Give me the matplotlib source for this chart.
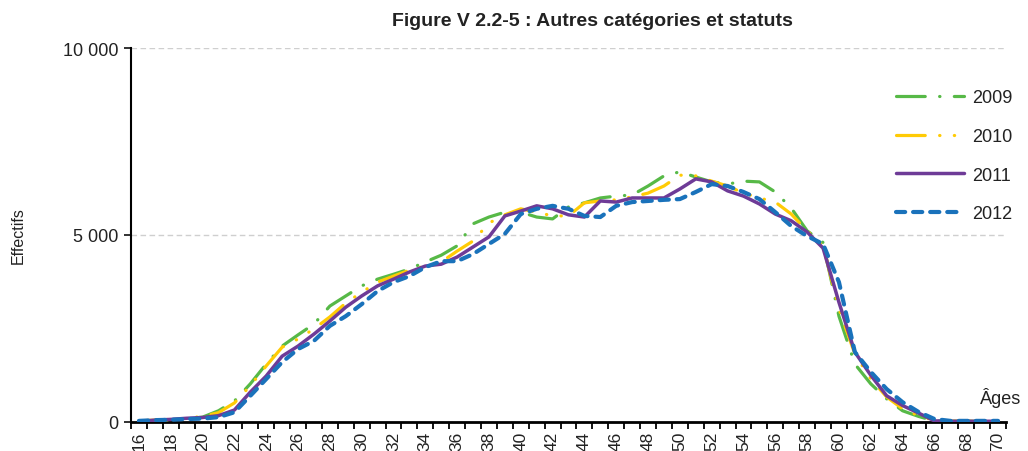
import matplotlib
matplotlib.use("Agg")
import matplotlib.pyplot as plt
from matplotlib.ticker import FuncFormatter

plt.rcParams['font.family'] = ['Liberation Sans', 'DejaVu Sans']

ages = list(range(16, 71))

v2009 = [30, 40, 60, 90, 130, 300, 560, 1020, 1550, 2030, 2330, 2620, 3100, 3370, 3640, 3820,
         3950, 4090, 4280, 4460, 4710, 5300, 5480, 5610, 5610, 5480, 5430, 5750, 5860, 5990,
         6040, 6070, 6310, 6580, 6690, 6550, 6420, 6360, 6440, 6420, 6150, 5720, 5110, 4800,
         2830, 1550, 1020, 620, 300, 150, 30, 20, 20, 20, 20]
v2010 = [30, 50, 70, 100, 150, 250, 510, 970, 1500, 2000, 2220, 2490, 2810, 3180, 3470, 3740,
         3900, 4060, 4170, 4280, 4570, 4840, 5320, 5540, 5700, 5610, 5510, 5510, 5860, 5910,
         5940, 6020, 6120, 6310, 6600, 6580, 6440, 6310, 6120, 5990, 5880, 5560, 5110, 4710,
         3020, 1820, 1150, 670, 350, 170, 40, 20, 20, 20, 20]
v2011 = [20, 50, 70, 100, 120, 170, 320, 800, 1230, 1760, 2030, 2350, 2700, 3070, 3370, 3640,
         3820, 4010, 4170, 4220, 4410, 4680, 4950, 5510, 5640, 5780, 5700, 5540, 5480, 5910,
         5880, 5990, 5990, 5990, 6230, 6500, 6420, 6180, 6040, 5830, 5560, 5380, 5080, 4650,
         3200, 1870, 1250, 700, 440, 240, 30, 20, 20, 20, 20]
v2012 = [30, 50, 60, 80, 90, 130, 260, 700, 1150, 1600, 1950, 2170, 2570, 2830, 3150, 3500,
         3740, 3900, 4140, 4300, 4300, 4490, 4760, 5030, 5560, 5700, 5780, 5700, 5510, 5480,
         5780, 5880, 5910, 5940, 5960, 6150, 6360, 6310, 6150, 5960, 5610, 5240, 4970, 4760,
         3740, 1870, 1340, 880, 530, 270, 80, 30, 30, 30, 30]

series_labels = ['2009', '2010', '2011', '2012']
y_ticks = [0, 5000, 10000]
title = "Figure V 2.2-5 : Autres catégories et statuts"

fig = plt.figure(figsize=(10.28, 4.52), dpi=100)
ax = fig.add_axes([131/1028, 1-423/452, (1006-131)/1028, (423-49)/452])

green = '#57B947'
yellow = '#FFCB05'
purple = '#6E3B97'
blue = '#1A72BB'

ax.plot(ages, v2009, color=green, lw=2.3, linestyle=(0, (9, 4.5, 0.1, 4.5)),
        dash_capstyle='round', label=series_labels[0], zorder=3)
ax.plot(ages, v2010, color=yellow, lw=2.3, linestyle=(0, (9, 4.5, 0.1, 4.5, 0.1, 4.5)),
        dash_capstyle='round', label=series_labels[1], zorder=4)
ax.plot(ages, v2011, color=purple, lw=2.5, linestyle='-', solid_capstyle='round',
        label=series_labels[2], zorder=5)
ax.plot(ages, v2012, color=blue, lw=3.0, linestyle=(0, (2.2, 1.9)),
        dash_capstyle='round', label=series_labels[3], zorder=6)

ax.set_xlim(15.5, 70.5)
ax.set_ylim(0, 10000)

ax.set_yticks(y_ticks)
ax.yaxis.set_major_formatter(FuncFormatter(lambda v, p: f"{int(v):,}".replace(",", " ")))
ax.tick_params(axis='y', length=5, width=1.3, labelsize=13, pad=4, colors='#222222')
ax.grid(axis='y', color='#CFCFCF', linestyle=(0, (4, 2.5)), lw=1.0, zorder=0)

major = [a - 0.5 for a in ages] + [70.5]
ax.set_xticks(major)
ax.set_xticklabels([])
ax.tick_params(axis='x', which='major', length=5, width=1.3, colors='black')
ax.set_xticks(ages[::2], minor=True)
ax.set_xticklabels([str(a) for a in ages[::2]], minor=True, rotation=90, fontsize=12.5,
                   color='#222222')
ax.tick_params(axis='x', which='minor', length=0, pad=6)

for s in ['top', 'right']:
    ax.spines[s].set_visible(False)
ax.spines['left'].set_linewidth(1.5)
ax.spines['bottom'].set_linewidth(2.0)

ax.set_ylabel('Effectifs', fontsize=11.5, labelpad=27, color='#222222')
ax.text((1001-131)/875, (423-398)/374, 'Âges', transform=ax.transAxes, fontsize=13,
        ha='center', va='center', color='#222222')

fig.text(592/1028, 1-22/452, title, ha='center', va='center', fontsize=14,
         fontweight='bold', color='#222222')

leg = ax.legend(loc='upper left', bbox_to_anchor=(880/1028, 1-74/452),
                bbox_transform=fig.transFigure, frameon=False, fontsize=13,
                handlelength=3.75, handletextpad=0.45, labelspacing=1.2)
for t in leg.get_texts():
    t.set_color('#222222')

fig.savefig('out.png', dpi=100)
